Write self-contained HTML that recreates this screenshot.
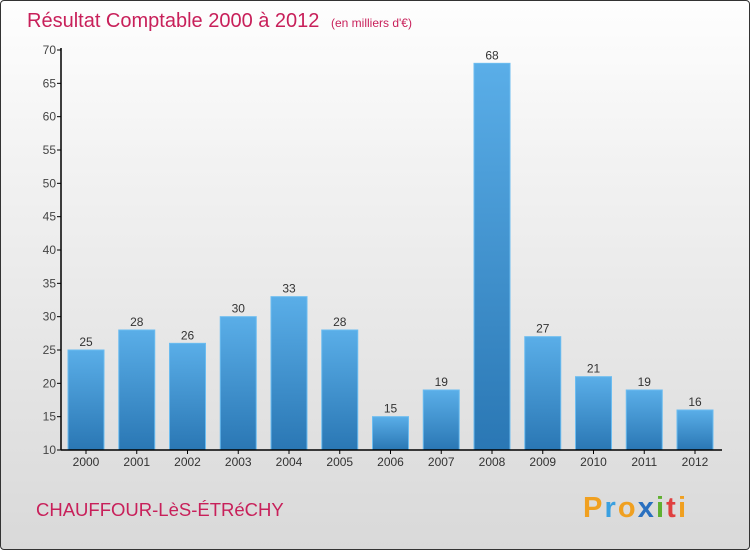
<!DOCTYPE html>
<html><head><meta charset="utf-8"><style>
body{margin:0;width:750px;height:550px;overflow:hidden;font-family:"Liberation Sans",sans-serif}
#c{position:absolute;left:0;top:0;width:748px;height:548px;border:1px solid #333;border-radius:4px;background:linear-gradient(#fefefe,#f2f2f2 30%,#d9d9d9)}
</style></head><body>
<div id="c">
<svg width="750" height="550" style="position:absolute;left:-1px;top:-1px" id="svg">
<defs><linearGradient id="bg" x1="0" y1="0" x2="0" y2="1"><stop offset="0" stop-color="#5aaee8"/><stop offset="1" stop-color="#2a77b4"/></linearGradient></defs>
<text x="27" y="27" font-size="20" fill="#c8205a">Résultat Comptable 2000 à 2012 <tspan font-size="12" dx="6">(en milliers d'€)</tspan></text>
<text x="36" y="516" font-size="18.5" fill="#c8205a">CHAUFFOUR-LèS-ÉTRéCHY</text>
<text x="583" y="517" font-size="29" font-weight="bold" textLength="103"><tspan fill="#f0a020">P</tspan><tspan fill="#3aa0e0">r</tspan><tspan fill="#f0a020">o</tspan><tspan fill="#2a70c0">x</tspan><tspan fill="#60b030">i</tspan><tspan fill="#e04040">t</tspan><tspan fill="#f0a020">i</tspan></text>
<g id="plot"></g>
</svg></div>
<script>
const years=["2000","2001","2002","2003","2004","2005","2006","2007","2008","2009","2010","2011","2012"];
const values=[25,28,26,30,33,28,15,19,68,27,21,19,16];
const yTicks=[10,15,20,25,30,35,40,45,50,55,60,65,70];
const g=document.getElementById('plot');const NS="http://www.w3.org/2000/svg";
const y=v=>450-(v-10)*400/60;const x=i=>86+i*50.75;
function mk(t,a){const e=document.createElementNS(NS,t);for(const k in a)e.setAttribute(k,a[k]);g.appendChild(e);return e;}
yTicks.forEach(t=>{const l=mk('line',{x1:57,x2:61,y1:y(t),y2:y(t),stroke:'#000'});


const tx=mk('text',{x:56,y:y(t)+4,'font-size':12,fill:'#444','text-anchor':'end'});tx.textContent=t;

});
years.forEach((yr,i)=>{const v=values[i];
const r=mk('rect',{x:x(i)-18,y:y(v),width:36,height:450-y(v),fill:'url(#bg)',stroke:'#6bbcf0','stroke-width':1});


const vt=mk('text',{x:x(i),y:y(v)-4,'font-size':12,fill:'#333','text-anchor':'middle'});vt.textContent=v;


const tk=mk('line',{x1:x(i),x2:x(i),y1:450,y2:454,stroke:'#000'});


const xt=mk('text',{x:x(i),y:466,'font-size':12,fill:'#333','text-anchor':'middle'});xt.textContent=yr;

});
const ya=mk('line',{x1:61,x2:61,y1:48,y2:450,stroke:'#000','stroke-width':1.5});


const xa=mk('line',{x1:61,x2:722,y1:450,y2:450,stroke:'#000','stroke-width':1.5});


</script></body></html>
